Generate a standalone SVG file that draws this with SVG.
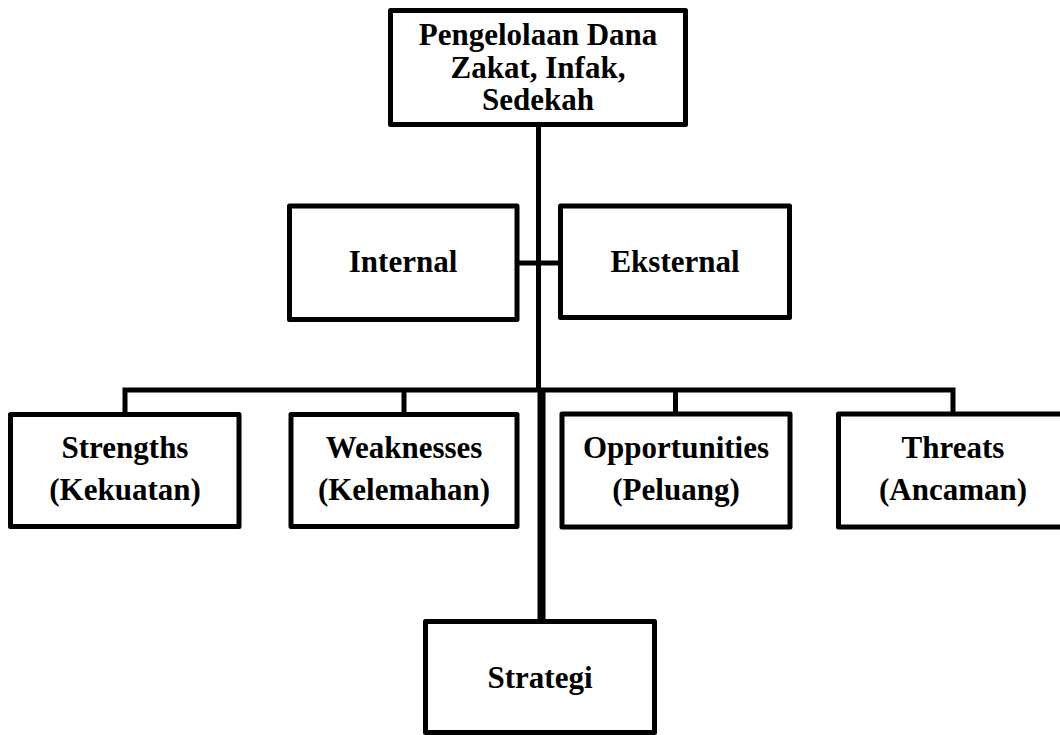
<svg xmlns="http://www.w3.org/2000/svg" width="1060" height="735" viewBox="0 0 1060 735">
<style>
.box{fill:#fff;stroke:#000;stroke-width:5;stroke-linejoin:round}
.lbl{font-family:"Liberation Serif","Times New Roman",serif;font-weight:bold;font-size:31px;fill:#000;text-anchor:middle}
.ln{stroke:#000;fill:none;stroke-width:5}
</style>
<rect width="1060" height="735" fill="#fff"/>
<g id="connectors">
<line class="ln" x1="538.5" y1="124" x2="538.5" y2="392"/>
<line class="ln" x1="517" y1="263" x2="560.5" y2="263"/>
<path class="ln" d="M125 416 V390 H953 V414"/>
<line class="ln" x1="404" y1="390" x2="404" y2="416"/>
<line class="ln" x1="675.5" y1="390" x2="675.5" y2="414"/>
<line class="ln" style="stroke-width:8" x1="541.5" y1="388" x2="541.5" y2="622"/>
</g>
<g id="top">
<rect class="box" x="390.5" y="10.5" width="295" height="114"/>
<text class="lbl" x="538" y="45">Pengelolaan Dana</text>
<text class="lbl" x="538" y="78">Zakat, Infak,</text>
<text class="lbl" x="538" y="110">Sedekah</text>
</g>
<g id="internal">
<rect class="box" x="289.5" y="206" width="227.5" height="113.5"/>
<text class="lbl" x="403" y="272">Internal</text>
</g>
<g id="eksternal">
<rect class="box" x="560.5" y="206" width="229" height="111.5"/>
<text class="lbl" x="675" y="272">Eksternal</text>
</g>
<g id="strengths">
<rect class="box" x="10.5" y="414.5" width="228.5" height="112"/>
<text class="lbl" x="125" y="458">Strengths</text>
<text class="lbl" x="125" y="500">(Kekuatan)</text>
</g>
<g id="weaknesses">
<rect class="box" x="291" y="414.5" width="226" height="112"/>
<text class="lbl" x="404" y="458">Weaknesses</text>
<text class="lbl" x="404" y="500">(Kelemahan)</text>
</g>
<g id="opportunities">
<rect class="box" x="562" y="414" width="228" height="113"/>
<text class="lbl" x="676" y="458">Opportunities</text>
<text class="lbl" x="676" y="500">(Peluang)</text>
</g>
<g id="threats">
<rect class="box" x="838.5" y="414" width="230" height="113"/>
<text class="lbl" x="953" y="458">Threats</text>
<text class="lbl" x="953" y="500">(Ancaman)</text>
</g>
<g id="strategi">
<rect class="box" x="425.5" y="621.5" width="229" height="111"/>
<text class="lbl" x="540" y="688">Strategi</text>
</g>
</svg>
